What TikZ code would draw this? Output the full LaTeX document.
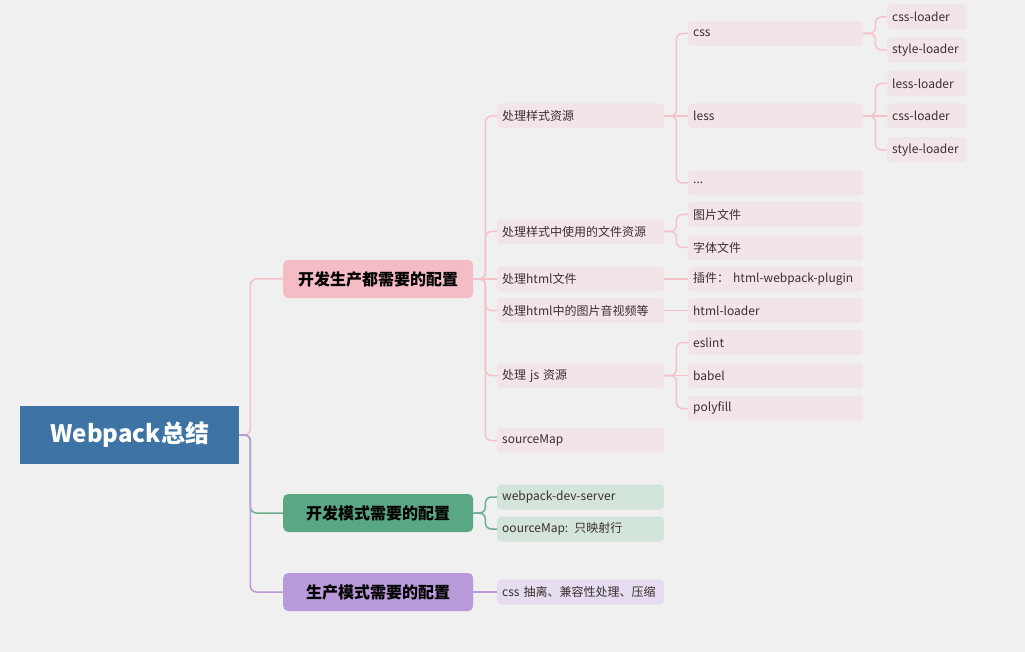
\documentclass[tikz,border=0pt]{standalone}
\usepackage{fontspec}
\setmainfont{Noto Sans CJK SC}
\definecolor{bg}{HTML}{F0F0F0}
\definecolor{rootc}{HTML}{3D74A5}
\definecolor{pinkc}{HTML}{F4BCC5}
\definecolor{pinkline}{HTML}{F5C2CB}
\definecolor{pinkfill}{HTML}{F2E5E7}
\definecolor{greenc}{HTML}{5AA783}
\definecolor{greenline}{HTML}{6AAE8D}
\definecolor{greenfill}{HTML}{D3E4DB}
\definecolor{purplec}{HTML}{B899D9}
\definecolor{purplefill}{HTML}{E5DDEF}
\definecolor{txt}{HTML}{3A2E30}
\begin{document}
\begin{tikzpicture}[x=1pt,y=-1pt,
  rootbox/.style={fill=rootc, minimum width=219pt, minimum height=58pt, inner sep=0pt, anchor=west, text=white, font=\fontsize{24}{28}\selectfont\bfseries},
  mainbox/.style={rounded corners=5pt, minimum width=190pt, minimum height=38pt, inner sep=0pt, anchor=west, text=black, font=\fontsize{16}{19}\selectfont\bfseries},
  leafbase/.style={rounded corners=4pt, minimum height=25pt, inner xsep=5pt, inner ysep=0pt, align=left, anchor=west, text=txt, font=\fontsize{12}{14}\selectfont},
  leaftwo/.style={leafbase, text width=157pt},
  leafthree/.style={leafbase, text width=165pt},
  leaffour/.style={leafbase, text width=70pt},
  conn/.style={line width=1.5pt, rounded corners=6pt}
]
\useasboundingbox (0,0) rectangle (1025,652);
\fill[bg] (0,0) rectangle (1025,652);

% root and level 1
\node[rootbox] (root) at (20,435) {Webpack总结};
\node[mainbox, fill=pinkc] (both) at (283,279) {开发生产都需要的配置};
\node[mainbox, fill=greenc] (dev) at (283,513) {开发模式需要的配置};
\node[mainbox, fill=purplec] (prod) at (283,592) {生产模式需要的配置};

% level 2 (pink)
\node[leaftwo, fill=pinkfill] (style) at (497,116) {处理样式资源};
\node[leaftwo, fill=pinkfill] (files) at (497,231.5) {处理样式中使用的文件资源};
\node[leaftwo, fill=pinkfill] (html) at (497,279) {处理html文件};
\node[leaftwo, fill=pinkfill] (media) at (497,310.5) {处理html中的图片音视频等};
\node[leaftwo, fill=pinkfill] (js) at (497,375.5) {处理 js 资源};
\node[leaftwo, fill=pinkfill] (smap) at (497,440.5) {sourceMap};

% level 2 (green, purple)
\node[leaftwo, fill=greenfill] (wds) at (497,497) {webpack-dev-server};
\node[leaftwo, fill=greenfill] (oomap) at (497,529) {oourceMap: 只映射行};
\node[leaftwo, fill=purplefill] (cssx) at (497,592) {css 抽离、兼容性处理、压缩};

% level 3
\node[leafthree, fill=pinkfill] (css) at (688,33.5) {css};
\node[leafthree, fill=pinkfill] (less) at (688,116) {less};
\node[leafthree, fill=pinkfill] (dots) at (688,183) {...};
\node[leafthree, fill=pinkfill] (img) at (688,214.5) {图片文件};
\node[leafthree, fill=pinkfill] (font) at (688,247.5) {字体文件};
\node[leafthree, fill=pinkfill] (plugin) at (688,279) {插件： html-webpack-plugin};
\node[leafthree, fill=pinkfill] (hl) at (688,310.5) {html-loader};
\node[leafthree, fill=pinkfill] (eslint) at (688,342.5) {eslint};
\node[leafthree, fill=pinkfill] (babel) at (688,375.5) {babel};
\node[leafthree, fill=pinkfill] (poly) at (688,408.5) {polyfill};

% level 4
\node[leaffour, fill=pinkfill] (cl1) at (887,17) {css-loader};
\node[leaffour, fill=pinkfill] (sl1) at (887,50) {style-loader};
\node[leaffour, fill=pinkfill] (ll) at (887,83.5) {less-loader};
\node[leaffour, fill=pinkfill] (cl2) at (887,116) {css-loader};
\node[leaffour, fill=pinkfill] (sl2) at (887,150) {style-loader};

% connectors root -> level 1
\draw[conn, pinkline] (root.east) -- ++(11,0) |- (both.west);
\draw[conn, greenline] (root.east) -- ++(11,0) |- (dev.west);
\draw[conn, purplec] (root.east) -- ++(11,0) |- (prod.west);

% level 1 -> level 2
\foreach \c in {style,files,media,js,smap}
  \draw[conn, pinkline] (both.east) -- ++(12,0) |- (\c.west);
\draw[conn, pinkline] (both.east) -- (html.west);
\foreach \c in {wds,oomap}
  \draw[conn, greenline] (dev.east) -- ++(12,0) |- (\c.west);
\draw[conn, purplec] (prod.east) -- (cssx.west);

% level 2 -> level 3
\foreach \c in {css,dots}
  \draw[conn, pinkline] (style.east) -- ++(12,0) |- (\c.west);
\draw[conn, pinkline] (style.east) -- (less.west);
\foreach \c in {img,font}
  \draw[conn, pinkline] (files.east) -- ++(12,0) |- (\c.west);
\draw[conn, pinkline] (html.east) -- (plugin.west);
\draw[conn, pinkline] (media.east) -- (hl.west);
\foreach \c in {eslint,poly}
  \draw[conn, pinkline] (js.east) -- ++(12,0) |- (\c.west);
\draw[conn, pinkline] (js.east) -- (babel.west);

% level 3 -> level 4
\foreach \c in {cl1,sl1}
  \draw[conn, pinkline] (css.east) -- ++(12,0) |- (\c.west);
\foreach \c in {ll,sl2}
  \draw[conn, pinkline] (less.east) -- ++(12,0) |- (\c.west);
\draw[conn, pinkline] (less.east) -- (cl2.west);
\end{tikzpicture}
\end{document}
